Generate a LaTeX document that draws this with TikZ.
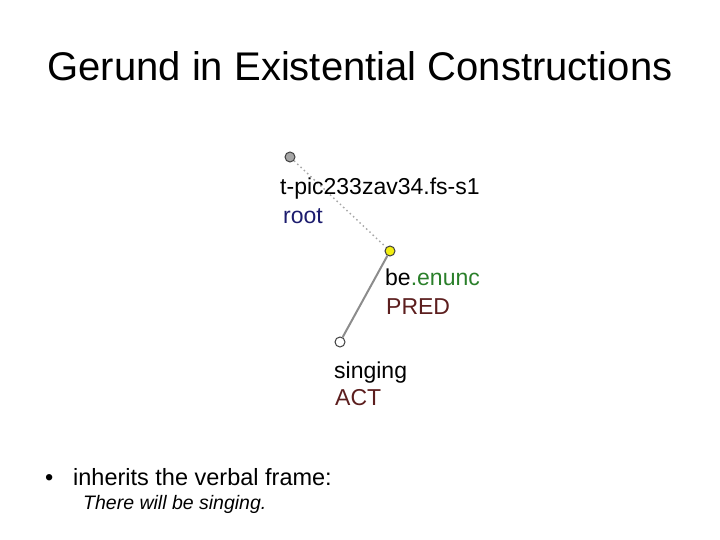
\documentclass[tikz,border=0pt]{standalone}
\usepackage{fontspec}
\setmainfont{Liberation Sans}
\usetikzlibrary{backgrounds}

\definecolor{rootblue}{HTML}{1C1C6E}
\definecolor{enuncgreen}{HTML}{2A7F2A}
\definecolor{functor}{HTML}{5C1E1E}
\definecolor{treeyellow}{HTML}{F2EE10}

\begin{document}
\begin{tikzpicture}[x=1pt,y=-1pt,
  tnode/.style={circle,draw=black!75,line width=1pt,minimum size=10pt,inner sep=0pt},
  tlabel/.style={anchor=base west,inner sep=0pt,font=\fontsize{23}{27}\selectfont},
  edge dep/.style={draw=black!45,line width=2pt},
  edge root/.style={draw=black!35,line width=1.4pt,dash pattern=on 1.5pt off 3pt}]

  \useasboundingbox (0,0) rectangle (720,540);

  % Title
  \node [anchor=base,inner sep=0pt,font=\fontsize{40}{48}\selectfont] (title) at (360,81)
    {Gerund in Existential Constructions};

  % Tectogrammatical tree: root, be, singing

  \node [tnode,fill=black!35] (root) at (290,157) {};
  \node [tlabel] (rootid) at (280,195) {t-pic233zav34.fs-s1};
  \node [tlabel,text=rootblue] (rootfn) at (283,223) {root};

  \node [tnode,fill=treeyellow] (be) at (390,251) {};
  \node [tlabel] (belemma) at (385,285) {be\textcolor{enuncgreen}{.enunc}};
  \node [tlabel,text=functor] (befn) at (386,314) {PRED};

  \node [tnode,fill=white] (sing) at (340,342) {};
  \node [tlabel] (singlemma) at (334,378) {singing};
  \node [tlabel,text=functor] (singfn) at (335,405) {ACT};

  \begin{pgfonlayer}{background}
    \draw [edge root] (root) -- (be);
    \draw [edge dep] (be) -- (sing);
  \end{pgfonlayer}

  % Bullet text
  \node [anchor=base west,inner sep=0pt,font=\fontsize{23.5}{28}\selectfont] (bullet) at (45,485) {•};
  \node [anchor=base west,inner sep=0pt,font=\fontsize{23.5}{28}\selectfont] (frame) at (73,485)
    {inherits the verbal frame:};
  \node [anchor=base west,inner sep=0pt,font=\fontsize{19.5}{24}\selectfont\itshape] (example) at (83,509)
    {There will be singing.};

\end{tikzpicture}
\end{document}
